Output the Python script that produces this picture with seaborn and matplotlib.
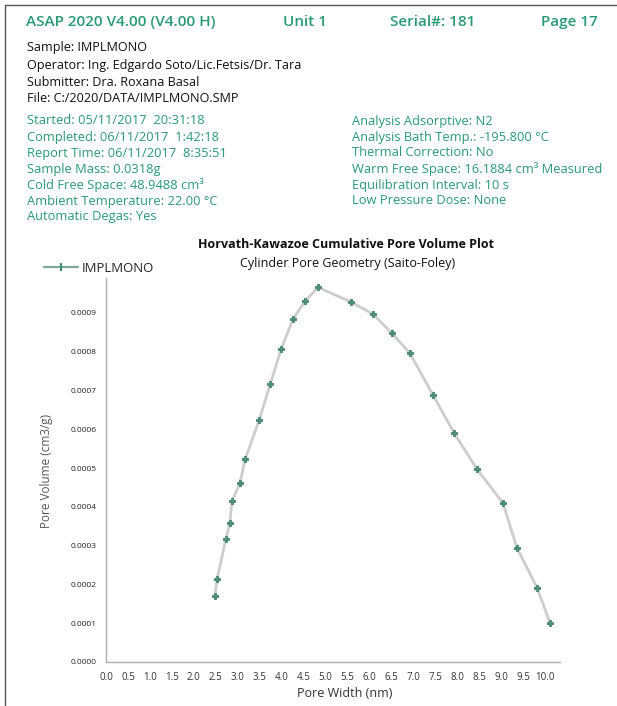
import matplotlib
matplotlib.use("Agg")
import matplotlib.pyplot as plt
import seaborn as sns
import pandas as pd
from matplotlib.lines import Line2D

# data
pore_width = [2.48, 2.53, 2.73, 2.82, 2.87, 3.05, 3.17, 3.49, 3.74, 3.99, 4.26,
              4.53, 4.83, 5.58, 6.08, 6.51, 6.92, 7.45, 7.93, 8.45, 9.04, 9.36,
              9.82, 10.11]
pore_volume = [0.000170, 0.000214, 0.000317, 0.000358, 0.000415, 0.000461,
               0.000523, 0.000624, 0.000716, 0.000807, 0.000884, 0.000930,
               0.000966, 0.000928, 0.000897, 0.000848, 0.000796, 0.000688,
               0.000590, 0.000497, 0.000410, 0.000294, 0.000191, 0.000101]
x_ticks = [0.0, 0.5, 1.0, 1.5, 2.0, 2.5, 3.0, 3.5, 4.0, 4.5, 5.0, 5.5, 6.0,
           6.5, 7.0, 7.5, 8.0, 8.5, 9.0, 9.5, 10.0]
y_ticks = [0.0000, 0.0001, 0.0002, 0.0003, 0.0004, 0.0005, 0.0006, 0.0007,
           0.0008, 0.0009]

header = ["ASAP 2020 V4.00 (V4.00 H)", "Unit 1", "Serial#: 181", "Page 17"]
sample_info = ["Sample: IMPLMONO",
               "Operator: Ing. Edgardo Soto/Lic.Fetsis/Dr. Tara",
               "Submitter: Dra. Roxana Basal",
               "File: C:/2020/DATA/IMPLMONO.SMP"]
left_info = ["Started: 05/11/2017  20:31:18",
             "Completed: 06/11/2017  1:42:18",
             "Report Time: 06/11/2017  8:35:51",
             "Sample Mass: 0.0318g",
             "Cold Free Space: 48.9488 cm\u00b3",
             "Ambient Temperature: 22.00 \u00b0C",
             "Automatic Degas: Yes"]
right_info = ["Analysis Adsorptive: N2",
              "Analysis Bath Temp.: -195.800 \u00b0C",
              "Thermal Correction: No",
              "Warm Free Space: 16.1884 cm\u00b3 Measured",
              "Equilibration Interval: 10 s",
              "Low Pressure Dose: None"]

green = "#2a9a72"
W, H = 617, 706

sns.set_style("white")
plt.rcParams['font.family'] = ['Open Sans', 'DejaVu Sans']

fig = plt.figure(figsize=(W / 100, H / 100), dpi=100)

def fx(px):
    return px / W

def fy(py):
    return 1 - py / H

# page frame (left and top)
fig.add_artist(Line2D([fx(5), fx(5)], [0, fy(5)], color="#555555", lw=1))
fig.add_artist(Line2D([fx(5), 1], [fy(5), fy(5)], color="#555555", lw=1))

# header row
for txt, px in zip(header, [26, 283, 390, 541]):
    fig.text(fx(px), fy(22), txt, color=green, fontsize=11, fontweight="semibold",
             va="center")

for i, txt in enumerate(sample_info):
    fig.text(fx(27), fy(48 + 17 * i), txt, color="#111111", fontsize=9.1, va="center")

for i, txt in enumerate(left_info):
    fig.text(fx(27), fy(121 + 16 * i), txt, color=green, fontsize=9.3, va="center")
for i, txt in enumerate(right_info):
    fig.text(fx(352), fy(121 + 16 * i), txt, color=green, fontsize=9.3, va="center")

fig.text(fx(346), fy(244), "Horvath-Kawazoe Cumulative Pore Volume Plot",
         fontsize=9, fontweight="bold", ha="center", va="center", color="#111111")
fig.text(fx(348), fy(263), "Cylinder Pore Geometry (Saito-Foley)",
         fontsize=9, ha="center", va="center", color="#111111")

# plot area
ax = fig.add_axes([fx(106), fy(662), (560 - 106) / W, (662 - 278) / H])
df = pd.DataFrame({"width": pore_width, "volume": pore_volume})
sns.lineplot(data=df, x="width", y="volume", ax=ax, sort=False, color="#cdcdcd",
             lw=2, marker="P", markersize=4.5, markerfacecolor="#4f8c7a",
             markeredgecolor="#4f8c7a", legend=False)

ax.set_xlim(0, 10.34)
ax.set_ylim(0, 0.00099)
ax.set_xticks(x_ticks)
ax.set_xticklabels([f"{v:.1f}" for v in x_ticks], fontsize=7, color="#333333")
ax.set_yticks(y_ticks)
ax.set_yticklabels([f"{v:.4f}" for v in y_ticks], fontsize=6, color="#222222")
ax.tick_params(length=0, pad=7)
for s in ["top", "right"]:
    ax.spines[s].set_visible(False)
for s in ["left", "bottom"]:
    ax.spines[s].set_color("#b0b0b0")
    ax.spines[s].set_linewidth(1)
ax.set_xlabel("Pore Width (nm)", fontsize=9, color="#333333")
ax.set_ylabel("Pore Volume (cm3/g)", fontsize=8.5, color="#555555")
ax.xaxis.set_label_coords((345 - 106) / 454, -(687 - 662) / 384)
ax.yaxis.set_label_coords(-(106 - 53) / 454, (662 - 471) / 384)

handle = Line2D([], [], color="#7fa898", lw=1.6, marker="|", markersize=6,
                markeredgecolor="#3f8f78", markeredgewidth=1.5)
fig.legend([handle], ["IMPLMONO"], loc="center left",
           bbox_to_anchor=(fx(32), fy(268)), frameon=False, fontsize=9.5,
           handlelength=2.6, handletextpad=0.3)

fig.savefig("out.png", dpi=100)
